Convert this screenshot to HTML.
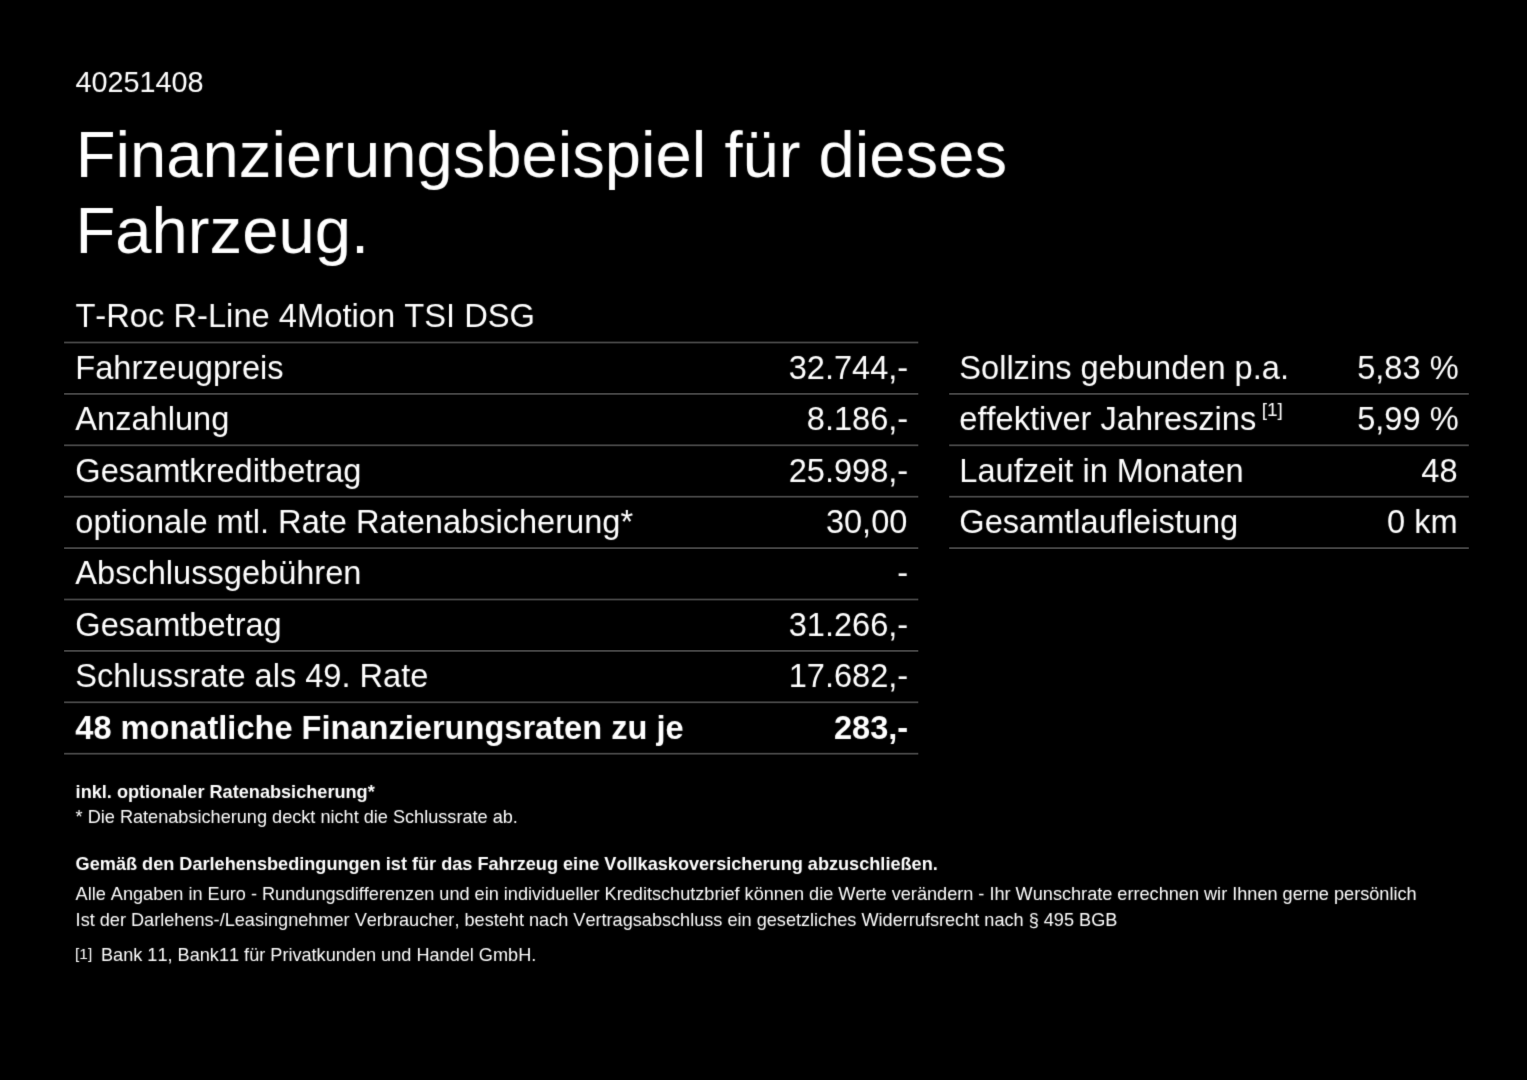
<!DOCTYPE html>
<html lang="de">
<head>
<meta charset="utf-8">
<title>Finanzierungsbeispiel für dieses Fahrzeug</title>
<style>
html,body{margin:0;padding:0;background:#000;}
body{width:1527px;height:1080px;overflow:hidden;position:relative;color:#fff;
 font-family:"Liberation Sans",Arial,Helvetica,sans-serif;font-kerning:none;}
.w{display:block;position:static;margin:0;padding:0;border:0;font:inherit;}
.t{display:block;position:absolute;white-space:nowrap;margin:0;padding:0;font-weight:normal;}
.id{font-size:28.8px;line-height:32px;}
.h1{font-size:65.2px;line-height:76px;}
.c{font-size:32.6px;line-height:40px;}
.model{font-size:32.7px;}
.v{text-align:right;}
.b{font-weight:bold;}
.small{font-size:18.14px;line-height:24px;}
.small b{font-weight:bold;}
sup{font-size:19px;vertical-align:baseline;position:relative;top:-13.9px;margin-left:5.5px;line-height:0;}
.fn{font-size:15.4px;position:relative;top:-2.5px;margin-left:-0.5px;margin-right:8.8px;}
.rules{position:absolute;left:0;top:0;}
#page{position:absolute;left:0;top:0;width:1527px;height:1080px;filter:url(#soft);}
</style>
</head>
<body>
<svg width="0" height="0" style="position:absolute" aria-hidden="true"><filter id="soft" x="0" y="0" width="100%" height="100%" color-interpolation-filters="sRGB"><feConvolveMatrix order="3" kernelMatrix="1 6 1 6 36 6 1 6 1" divisor="64" edgeMode="none" preserveAlpha="false"/></filter></svg>
<svg class="rules" width="1527" height="1080" viewBox="0 0 1527 1080" aria-hidden="true">
<rect x="64.1" y="341.60" width="854.2" height="1.8" fill="#464646"/>
<rect x="64.1" y="393.00" width="854.2" height="1.8" fill="#464646"/>
<rect x="64.1" y="444.40" width="854.2" height="1.8" fill="#464646"/>
<rect x="64.1" y="495.80" width="854.2" height="1.8" fill="#464646"/>
<rect x="64.1" y="547.20" width="854.2" height="1.8" fill="#464646"/>
<rect x="64.1" y="598.60" width="854.2" height="1.8" fill="#464646"/>
<rect x="64.1" y="650.00" width="854.2" height="1.8" fill="#464646"/>
<rect x="64.1" y="701.40" width="854.2" height="1.8" fill="#464646"/>
<rect x="64.1" y="752.80" width="854.2" height="1.8" fill="#464646"/>
<rect x="949.2" y="393.00" width="519.6" height="1.8" fill="#464646"/>
<rect x="949.2" y="444.40" width="519.6" height="1.8" fill="#464646"/>
<rect x="949.2" y="495.80" width="519.6" height="1.8" fill="#464646"/>
<rect x="949.2" y="547.20" width="519.6" height="1.8" fill="#464646"/>
</svg>
<main id="page">
<div id="id" class="t id" style="top:66px;left:75.5px">40251408</div>
<h1 class="w"><span id="h1a" class="t h1" style="top:117px;left:75.8px">Finanzierungsbeispiel für dieses</span> <span id="h1b" class="t h1" style="top:193px;left:75.5px">Fahrzeug.</span></h1>
<section class="w tbl" role="table" aria-label="Finanzierung">
<div class="w row" role="row"><span id="model" class="t c model" style="top:296px;left:75.4px">T-Roc R-Line 4Motion TSI DSG</span></div>
<div class="w row" role="row"><span id="a0l" class="t c l " style="top:348px;left:75.3px">Fahrzeugpreis</span><span id="a0v" class="t c v " style="top:348px;right:618.8px">32.744,-</span></div>
<div class="w row" role="row"><span id="a1l" class="t c l " style="top:399px;left:75.3px">Anzahlung</span><span id="a1v" class="t c v " style="top:399px;right:618.8px">8.186,-</span></div>
<div class="w row" role="row"><span id="a2l" class="t c l " style="top:451px;left:75.3px">Gesamtkreditbetrag</span><span id="a2v" class="t c v " style="top:451px;right:618.8px">25.998,-</span></div>
<div class="w row" role="row"><span id="a3l" class="t c l " style="top:502px;left:75.3px">optionale mtl. Rate Ratenabsicherung*</span><span id="a3v" class="t c v " style="top:502px;right:619.6px">30,00</span></div>
<div class="w row" role="row"><span id="a4l" class="t c l " style="top:553px;left:75.3px">Abschlussgebühren</span><span id="a4v" class="t c v " style="top:553px;right:618.8px">-</span></div>
<div class="w row" role="row"><span id="a5l" class="t c l " style="top:605px;left:75.3px">Gesamtbetrag</span><span id="a5v" class="t c v " style="top:605px;right:618.8px">31.266,-</span></div>
<div class="w row" role="row"><span id="a6l" class="t c l " style="top:656px;left:75.3px">Schlussrate als 49. Rate</span><span id="a6v" class="t c v " style="top:656px;right:618.8px">17.682,-</span></div>
<div class="w row" role="row"><span id="a7l" class="t c l b" style="top:708px;left:75.3px">48 monatliche Finanzierungsraten zu je</span><span id="a7v" class="t c v b" style="top:708px;right:618.8px">283,-</span></div>
</section>
<section class="w tbl" role="table" aria-label="Konditionen">
<div class="w row" role="row"><span id="b0l" class="t c l" style="top:348px;left:959.3px">Sollzins gebunden p.a.</span><span id="b0v" class="t c v" style="top:348px;right:68.4px">5,83 %</span></div>
<div class="w row" role="row"><span id="b1l" class="t c l" style="top:399px;left:959.3px">effektiver Jahreszins<sup>[1]</sup></span><span id="b1v" class="t c v" style="top:399px;right:68.4px">5,99 %</span></div>
<div class="w row" role="row"><span id="b2l" class="t c l" style="top:451px;left:959.3px">Laufzeit in Monaten</span><span id="b2v" class="t c v" style="top:451px;right:69.4px">48</span></div>
<div class="w row" role="row"><span id="b3l" class="t c l" style="top:502px;left:959.3px">Gesamtlaufleistung</span><span id="b3v" class="t c v" style="top:502px;right:69.4px">0 km</span></div>
</section>
<footer class="w notes">
<p id="s0" class="t small" style="top:780px;left:75.6px"><b>inkl. optionaler Ratenabsicherung*</b></p>
<p id="s1" class="t small" style="top:805px;left:75.6px">* Die Ratenabsicherung deckt nicht die Schlussrate ab.</p>
<p id="s2" class="t small" style="top:852px;left:75.6px"><b>Gemäß den Darlehensbedingungen ist für das Fahrzeug eine Vollkaskoversicherung abzuschließen.</b></p>
<p id="s3" class="t small" style="top:882px;left:75.6px">Alle Angaben in Euro - Rundungsdifferenzen und ein individueller Kreditschutzbrief können die Werte verändern - Ihr Wunschrate errechnen wir Ihnen gerne persönlich</p>
<p id="s4" class="t small" style="top:908px;left:75.6px">Ist der Darlehens-/Leasingnehmer Verbraucher, besteht nach Vertragsabschluss ein gesetzliches Widerrufsrecht nach § 495 BGB</p>
<p id="s5" class="t small" style="top:943px;left:75.6px"><span class="fn">[1]</span>Bank 11, Bank11 für Privatkunden und Handel GmbH.</p>
</footer>
</main>
</body>
</html>
